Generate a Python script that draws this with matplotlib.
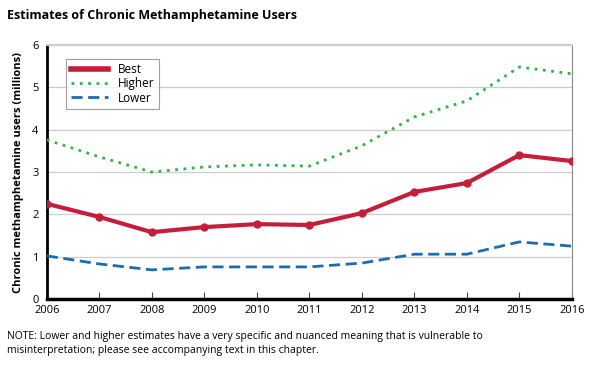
import matplotlib
matplotlib.use('Agg')
import matplotlib.pyplot as plt

years = list(range(2006, 2017))
best = [2.25, 1.94, 1.58, 1.70, 1.77, 1.75, 2.03, 2.53, 2.74, 3.40, 3.26]
higher = [3.76, 3.36, 3.00, 3.12, 3.17, 3.14, 3.62, 4.30, 4.68, 5.48, 5.32]
lower = [1.02, 0.83, 0.69, 0.76, 0.76, 0.76, 0.85, 1.06, 1.06, 1.35, 1.25]

plt.rcParams['font.family'] = ['Open Sans', 'DejaVu Sans']

fig = plt.figure(figsize=(6, 3.72), dpi=100)
ax = fig.add_axes([0.078, 0.196, 0.875, 0.683])

ax.plot(years, best, color='#c41e3a', linewidth=3, marker='o', markersize=5, label='Best', zorder=4)
ax.plot(years, higher, color='#2fb34a', linewidth=2, linestyle=(0, (1, 2)), label='Higher', zorder=3)
ax.plot(years, lower, color='#1b6db3', linewidth=2, linestyle=(0, (4, 2)), label='Lower', zorder=3)

ax.set_xlim(2006, 2016)
ax.set_ylim(0, 6)
ax.set_xticks(years)
ax.set_yticks(range(0, 7))
ax.tick_params(axis='x', direction='in', length=5, width=0.8, color='#444444', labelsize=8, pad=4)
ax.tick_params(axis='y', length=0, labelsize=8, pad=6)
ax.grid(axis='y', color='#cccccc', linewidth=0.9)
ax.set_axisbelow(True)

ax.spines['left'].set_linewidth(2)
ax.spines['bottom'].set_linewidth(2.5)
ax.spines['top'].set_color('#cccccc')
ax.spines['top'].set_linewidth(1.5)
ax.spines['right'].set_color('#888888')
ax.spines['right'].set_linewidth(0.8)

ax.set_ylabel('Chronic methamphetamine users (millions)', fontsize=8, fontweight='bold', labelpad=6)

leg = ax.legend(loc='upper left', bbox_to_anchor=(0.025, 0.97), fontsize=8.5, frameon=True,
                fancybox=False, handlelength=3.2, borderpad=0.4, labelspacing=0.1, handletextpad=0.8)
leg.get_frame().set_edgecolor('#888888')
leg.get_frame().set_linewidth(0.8)
leg.legend_handles[0].set_marker('')
leg.legend_handles[0].set_linewidth(4)

fig.text(0.012, 0.975, 'Estimates of Chronic Methamphetamine Users', fontsize=9, fontweight='bold',
         va='top', ha='left')
fig.text(0.012, 0.11, 'NOTE: Lower and higher estimates have a very specific and nuanced meaning that is vulnerable to\n'
         'misinterpretation; please see accompanying text in this chapter.',
         fontsize=7.5, va='top', ha='left', linespacing=1.35)

plt.savefig('out.png', dpi=100)
